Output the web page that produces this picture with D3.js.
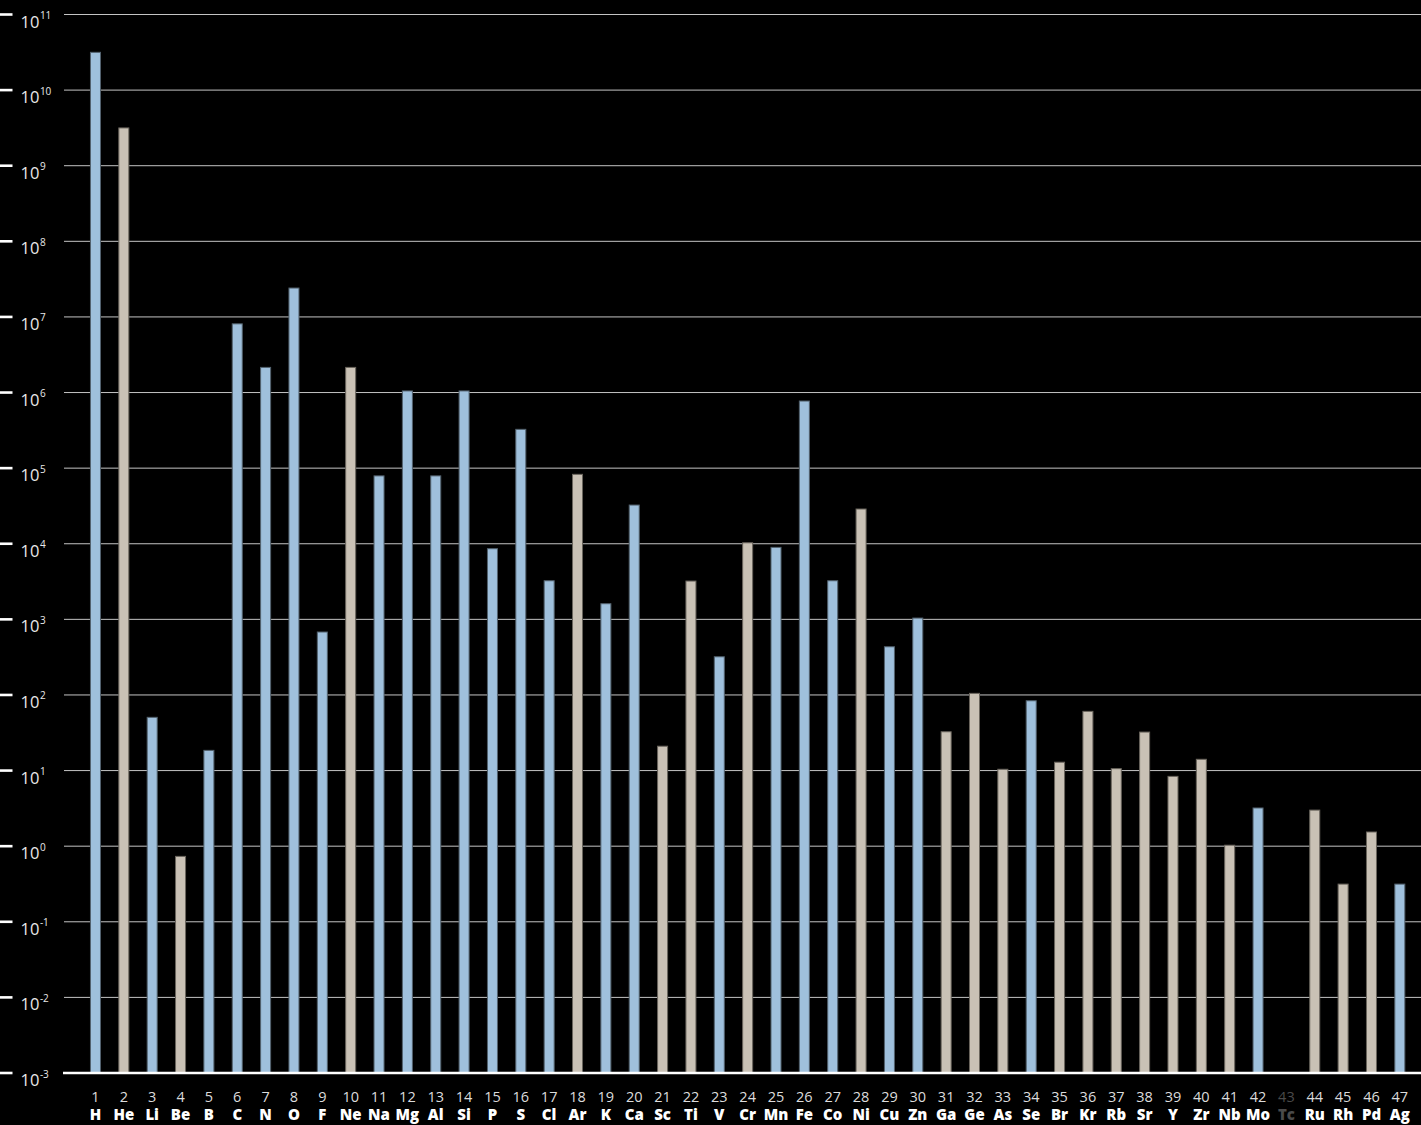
<!DOCTYPE html>
<html>
<head>
<meta charset="utf-8">
<script src="https://cdn.jsdelivr.net/npm/d3@7"></script>
<style>
  html, body { margin: 0; padding: 0; background: #000; }
  svg { display: block; }
</style>
</head>
<body>
<svg id="chart" width="1421" height="1125"></svg>
<script>
// Elements 1–47, relative abundance (Si = 10^6), log scale
const atomicNumbers = [1,2,3,4,5,6,7,8,9,10,11,12,13,14,15,16,17,18,19,20,21,22,23,24,25,26,27,28,29,30,31,32,33,34,35,36,37,38,39,40,41,42,43,44,45,46,47];
const symbols = ["H","He","Li","Be","B","C","N","O","F","Ne","Na","Mg","Al","Si","P","S","Cl","Ar","K","Ca","Sc","Ti","V","Cr","Mn","Fe","Co","Ni","Cu","Zn","Ga","Ge","As","Se","Br","Kr","Rb","Sr","Y","Zr","Nb","Mo","Tc","Ru","Rh","Pd","Ag"];
const abundances = [3.16e10, 3.16e9, 50.6, 0.733, 18.5, 8.1e6, 2.15e6, 2.41e7, 680, 2.15e6,
  7.9e4, 1.05e6, 7.9e4, 1.05e6, 8.6e3, 3.26e5, 3.24e3, 8.28e4, 1.61e3, 3.25e4,
  21, 3.21e3, 320, 1.03e4, 8.96e3, 7.72e5, 3.24e3, 2.88e4, 434, 1.04e3,
  32.6, 105, 10.4, 83.8, 12.9, 60.7, 10.6, 32.3, 8.38, 14.1,
  1.03, 3.2, null, 3.0, 0.315, 1.54, 0.315];
const groups = ["life","other","life","other","life","life","life","life","life","other",
  "life","life","life","life","life","life","life","other","life","life",
  "other","other","life","other","life","life","life","other","life","life",
  "other","other","other","life","other","other","other","other","other","other",
  "other","life","none","other","other","other","life"];
const exponents = [-3,-2,-1,0,1,2,3,4,5,6,7,8,9,10,11];

const svg = d3.select("#chart");
const W = 1421, H = 1125;
const plotLeft = 64, plotRight = W;

const y = d3.scaleLog().domain([1e-3, 1e11]).range([1073, 14.5]);
const x = d3.scaleBand()
  .domain(atomicNumbers)
  .range([81.3, 1414])
  .paddingInner(0.647)
  .paddingOuter(0.3235);

const fill = d3.scaleOrdinal().domain(["life","other","none"]).range(["#9fc0dc","#c9c1b5","#000"]);
const edge = d3.scaleOrdinal().domain(["life","other","none"]).range(["#53626e","#6a655d","#000"]);

// horizontal gridlines, one per decade
const grid = svg.append("g");
grid.selectAll("line")
  .data(exponents.filter(e => e > -3))
  .join("line")
  .attr("x1", plotLeft).attr("x2", plotRight)
  .attr("y1", e => y(Math.pow(10, e))).attr("y2", e => y(Math.pow(10, e)))
  .attr("stroke", "#c4c4c4").attr("stroke-width", 1);

// left tick marks and labels
const ticks = svg.append("g");
ticks.selectAll("line")
  .data(exponents)
  .join("line")
  .attr("x1", 0).attr("x2", 12.5)
  .attr("y1", e => y(Math.pow(10, e))).attr("y2", e => y(Math.pow(10, e)))
  .attr("stroke", "#fff").attr("stroke-width", 2.6);

const tl = ticks.selectAll("text")
  .data(exponents)
  .join("text")
  .attr("x", 20.5)
  .attr("y", e => y(Math.pow(10, e)) + 13)
  .attr("fill", "#e8e8e8")
  .style("font-family", "'Open Sans', 'Liberation Sans', sans-serif")
  .style("font-size", "16.5px");
tl.append("tspan").text("10");
tl.append("tspan")
  .attr("dx", 0.5)
  .attr("dy", -8.5)
  .style("font-size", "10px")
  .text(e => e < 0 ? "-" + Math.abs(e) : String(e));

// bars
const data = atomicNumbers.map((n, i) => ({ n, sym: symbols[i], v: abundances[i], g: groups[i] }));
svg.append("g").selectAll("rect")
  .data(data.filter(d => d.v != null))
  .join("rect")
  .attr("x", d => x(d.n))
  .attr("width", x.bandwidth())
  .attr("y", d => y(d.v))
  .attr("height", d => y(1e-3) - y(d.v))
  .attr("fill", d => fill(d.g))
  .attr("stroke", d => edge(d.g))
  .attr("stroke-width", 1);

// baseline
svg.append("line")
  .attr("x1", plotLeft - 1).attr("x2", plotRight)
  .attr("y1", y(1e-3)).attr("y2", y(1e-3))
  .attr("stroke", "#fff").attr("stroke-width", 2.6);

// category labels: atomic number and symbol
const lab = svg.append("g").selectAll("g")
  .data(data)
  .join("g")
  .attr("transform", d => `translate(${x(d.n) + x.bandwidth() / 2},0)`);
lab.append("text")
  .attr("y", 1101.5)
  .attr("text-anchor", "middle")
  .attr("fill", d => d.v == null ? "#4a4a4a" : "#dcdcdc")
  .style("font-family", "'Open Sans', 'Liberation Sans', sans-serif")
  .style("font-size", "14.5px")
  .text(d => d.n);
lab.append("text")
  .attr("y", 1119.5)
  .attr("text-anchor", "middle")
  .attr("fill", d => d.v == null ? "#4a4a4a" : "#fff")
  .style("font-family", "'Open Sans', 'Liberation Sans', sans-serif")
  .style("font-weight", 800)
  .style("font-size", "15px")
  .text(d => d.sym);
</script>
</body>
</html>
